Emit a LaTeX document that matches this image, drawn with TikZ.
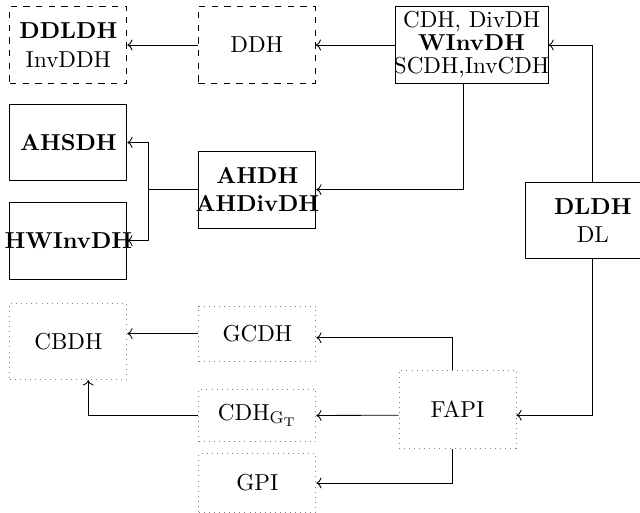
\documentclass[tikz,border=0pt]{standalone}
\usepackage{amsmath}
\usepackage{tikz}
\usetikzlibrary{arrows.meta, positioning}

\begin{document}
\begin{tikzpicture}[>={To},
    every node/.style={font=\fontsize{10.95}{13.6}\selectfont},
    solidbox/.style={draw, minimum width=1.95cm, minimum height=1.28cm, align=center, inner sep=1pt},
    dashbox/.style={solidbox, dashed},
    dotbox/.style={draw=gray, dotted, minimum width=1.95cm, minimum height=0.92cm, align=center, inner sep=1pt}]

  \useasboundingbox (0,0) rectangle (10.667,-8.55);

  % top row
  \node[dashbox] (ddldh) at (1.14,-0.75) {\textbf{DDLDH}\\InvDDH};
  \node[dashbox] (ddh)   at (4.28,-0.75) {DDH};
  \node[solidbox, minimum width=2.55cm, font=\fontsize{10.95}{10.9}\selectfont] (winv) at (7.86,-0.75)
    {CDH, DivDH\\\textbf{WInvDH}\\\makebox[0pt]{SCDH,InvCDH}};

  % middle rows
  \node[solidbox] (ahsdh) at (1.14,-2.375) {\textbf{AHSDH}};
  \node[solidbox] (ahdh)  at (4.29,-3.16)
    {\textbf{AHDH}\\\makebox[0pt]{\textbf{AHDivDH}}};
  \node[solidbox] (hwinv) at (1.14,-4.01) {\makebox[0pt]{\textbf{HWInvDH}}};
  \node[solidbox, minimum width=2.23cm] (dldh) at (9.88,-3.675)
    {\textbf{DLDH}\\DL};

  % bottom rows (dotted)
  \node[dotbox, minimum height=1.28cm] (cbdh) at (1.14,-5.69) {CBDH};
  \node[dotbox] (gcdh) at (4.29,-5.56) {GCDH};
  \node[dotbox, minimum height=0.88cm] (cdhg) at (4.29,-6.925)
    {CDH$_{\mathrm{G}_\mathrm{T}}$};
  \node[dotbox, minimum height=0.97cm] (gpi) at (4.29,-8.05) {GPI};
  \node[dotbox, minimum height=1.3cm] (fapi) at (7.625,-6.82) {FAPI};

  \coordinate (split) at (2.47,-3.16);

  \draw[->] (ddh) -- (ddldh);
  \draw[->] (winv) -- (ddh);
  \draw[->] (dldh.north) |- (winv.east);
  \draw[->] ([xshift=-0.14cm]winv.south) |- (ahdh.east);
  \draw (ahdh.west) -- (split);
  \draw[->] (split) |- (ahsdh.east);
  \draw[->] (split) |- (hwinv.east);

  \draw[->] (dldh.south) |- ([yshift=-0.1cm]fapi.east);
  \draw[->] ([xshift=-0.09cm]fapi.north) |- ([yshift=-0.07cm]gcdh.east);
  \draw[->] ([yshift=-0.1cm]fapi.west) -- (cdhg.east);
  \draw[->] ([xshift=-0.09cm]fapi.south) |- (gpi.east);
  \draw[->] (gcdh) -- (cbdh.east |- gcdh.west);
  \draw[->] (cdhg.west) -| ([xshift=0.33cm]cbdh.south);
\end{tikzpicture}
\end{document}
